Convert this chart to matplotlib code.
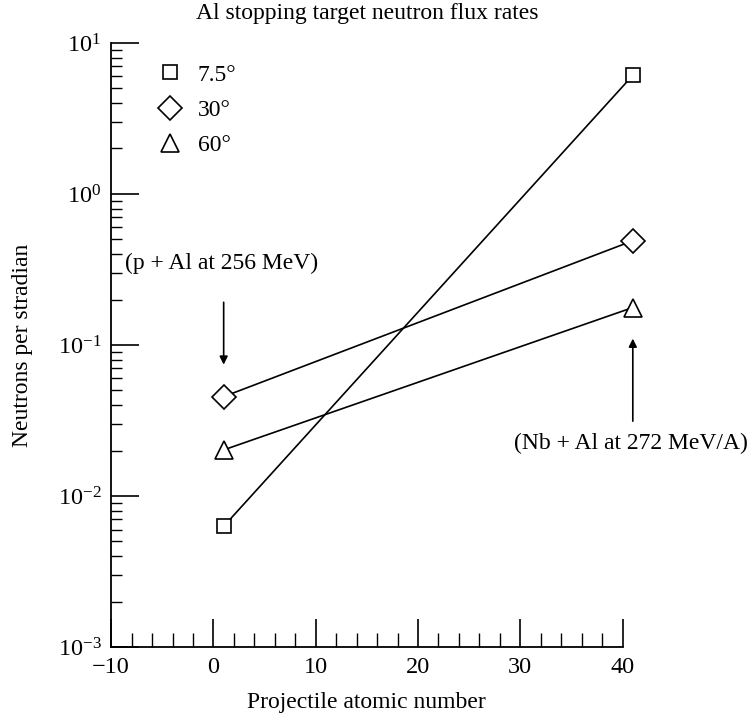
import matplotlib
matplotlib.use('Agg')
import matplotlib.pyplot as plt
from matplotlib.lines import Line2D
from matplotlib.ticker import MultipleLocator, LogLocator, NullFormatter

plt.rcParams['font.family'] = ['Liberation Serif', 'DejaVu Serif']
plt.rcParams['mathtext.fontset'] = 'stix'

# projectile atomic number: p (Z=1) and Nb (Z=41)
z = [1, 41]
flux_7_5 = [0.0063, 6.1]
flux_30 = [0.0455, 0.49]
flux_60 = [0.0202, 0.177]
labels = ['7.5°', '30°', '60°']
markers = ['s', 'D', '^']
sizes = [10, 12.5, 13]

fig = plt.figure(figsize=(7.51, 7.15), dpi=100)
ax = fig.add_axes([0.148, 0.095, 0.681, 0.845])

handles = []
for ys, m, ms, lab in zip([flux_7_5, flux_30, flux_60], markers, sizes, labels):
    ax.plot(z, ys, color='black', lw=1.2, marker=m, ms=ms, mfc='white',
            mec='black', mew=1.2, clip_on=False, zorder=3)
    handles.append(Line2D([], [], ls='none', marker=m, ms=ms, mfc='white',
                          mec='black', mew=1.2, label=lab))

ax.set_yscale('log')
ax.set_xlim(-10, 40)
ax.set_ylim(1e-3, 1e1)

ax.spines['top'].set_visible(False)
ax.spines['right'].set_visible(False)
ax.xaxis.set_major_locator(MultipleLocator(10))
ax.xaxis.set_minor_locator(MultipleLocator(2))
ax.yaxis.set_major_locator(LogLocator(base=10, numticks=10))
ax.yaxis.set_minor_locator(LogLocator(base=10, subs=range(2, 10), numticks=20))
ax.yaxis.set_minor_formatter(NullFormatter())
ax.tick_params(which='major', direction='in', length=20, width=1.2, labelsize=17.5, pad=7)
ax.tick_params(which='minor', direction='in', length=8, width=1.0)
ax.tick_params(axis='x', which='minor', length=10)
for s in ['left', 'bottom']:
    ax.spines[s].set_linewidth(1.3)

ax.set_xlabel('Projectile atomic number', fontsize=17, labelpad=10)
ax.set_ylabel('Neutrons per stradian', fontsize=17, labelpad=18)
ax.set_title('Al stopping target neutron flux rates', fontsize=17, pad=17)

ax.legend(handles=handles, loc='upper left', bbox_to_anchor=(0.045, 1.0),
          frameon=False, fontsize=17, handletextpad=0.6, labelspacing=0.58,
          handlelength=1.2)

# annotations
ax.annotate('', xy=(1, 0.071), xytext=(1, 0.2),
            arrowprops=dict(arrowstyle='-|>', color='black', lw=1.2,
                            mutation_scale=12))
ax.text(10.2, 0.347, '(p + Al at 256 MeV)', ha='right', va='center', fontsize=17)
ax.annotate('', xy=(41, 0.115), xytext=(41, 0.030),
            arrowprops=dict(arrowstyle='-|>', color='black', lw=1.2,
                            mutation_scale=12), annotation_clip=False)
ax.text(40.8, 0.0222, '(Nb + Al at 272 MeV/A)', ha='center', va='center',
        fontsize=17, clip_on=False)

fig.savefig('out.png', dpi=100)
